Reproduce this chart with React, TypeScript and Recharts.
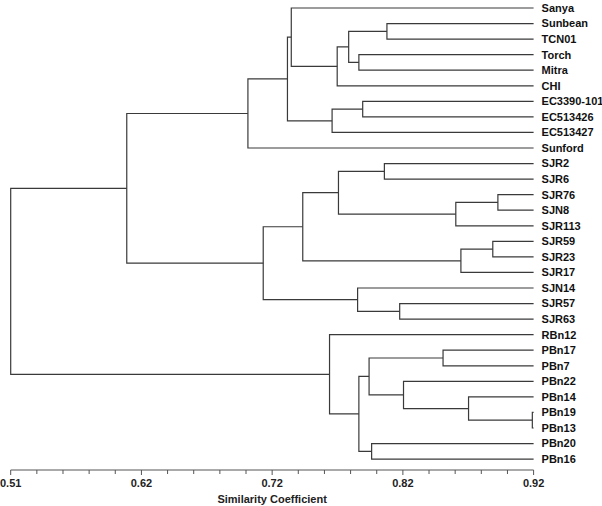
import React from "react";
import { LineChart, Line, XAxis, YAxis } from "recharts";

// leaf order top to bottom
const leaves = [
  "Sanya", "Sunbean", "TCN01", "Torch", "Mitra", "CHI",
  "EC3390-101", "EC513426", "EC513427", "Sunford",
  "SJR2", "SJR6", "SJR76", "SJN8", "SJR113", "SJR59", "SJR23", "SJR17",
  "SJN14", "SJR57", "SJR63",
  "RBn12", "PBn17", "PBn7", "PBn22", "PBn14", "PBn19", "PBn13", "PBn20", "PBn16",
];

// merges: [left, right, similarity]; "#n" = n-th merge overall
const topMerges: [string, string, number][] = [
  ["Sunbean", "TCN01", 0.805], // #0
  ["Torch", "Mitra", 0.783], // #1
  ["#0", "#1", 0.775], // #2
  ["#2", "CHI", 0.766], // #3
  ["Sanya", "#3", 0.73], // #4
  ["EC3390-101", "EC513426", 0.786], // #5
  ["#5", "EC513427", 0.762], // #6
  ["#4", "#6", 0.727], // #7
  ["#7", "Sunford", 0.696], // #8
];

const sjrMerges: [string, string, number][] = [
  ["SJR2", "SJR6", 0.803], // #9
  ["SJR76", "SJN8", 0.892], // #10
  ["#10", "SJR113", 0.859], // #11
  ["#9", "#11", 0.767], // #12
  ["SJR59", "SJR23", 0.888], // #13
  ["#13", "SJR17", 0.863], // #14
  ["#12", "#14", 0.739], // #15
  ["SJR57", "SJR63", 0.815], // #16
  ["SJN14", "#16", 0.782], // #17
  ["#15", "#17", 0.708], // #18
  ["#8", "#18", 0.601], // #19
];

const pbnMerges: [string, string, number][] = [
  ["PBn17", "PBn7", 0.849], // #20
  ["PBn19", "PBn13", 0.919], // #21
  ["PBn14", "#21", 0.869], // #22
  ["PBn22", "#22", 0.818], // #23
  ["#20", "#23", 0.791], // #24
  ["PBn20", "PBn16", 0.793], // #25
  ["#24", "#25", 0.783], // #26
  ["RBn12", "#26", 0.76], // #27
];

const rootMerges: [string, string, number][] = [["#19", "#27", 0.51]];

const majorTicks = [0.51, 0.6125, 0.715, 0.8175, 0.92];
const majorLabels = ["0.51", "0.62", "0.72", "0.82", "0.92"];

const LEAF_SIM = 0.92;
const LINE = "#3a3a3a";
const FONT = "Liberation Sans, Arial, sans-serif";

// every 5th tick is a major one
const xTicks: number[] = [];
majorTicks.forEach((t, i) => {
  if (i === 0) return xTicks.push(t);
  const prev = majorTicks[i - 1];
  for (let k = 1; k <= 5; k++) xTicks.push(prev + ((t - prev) * k) / 5);
});

const buildSegments = () => {
  const all = [...topMerges, ...sjrMerges, ...pbnMerges, ...rootMerges];
  const pos: { x: number; y: number }[] = [];
  const locate = (id: string) =>
    id.startsWith("#") ? pos[Number(id.slice(1))] : { x: LEAF_SIM, y: leaves.indexOf(id) };

  return all.map(([l, r, sim]) => {
    const a = locate(l);
    const b = locate(r);
    pos.push({ x: sim, y: (a.y + b.y) / 2 });
    return [
      { x: a.x, y: a.y },
      { x: sim, y: a.y },
      { x: sim, y: b.y },
      { x: b.x, y: b.y },
    ];
  });
};

const segments = buildSegments();

// minor ticks 4px, major ticks a bit longer
const XTick = (props: any) => {
  const { x, y, index } = props;
  const major = index % 5 === 0;
  return (
    <g>
      <line x1={x} x2={x} y1={470} y2={major ? 475 : 474} stroke="#555" />
      {major && (
        <text
          x={x}
          y={y}
          dy="0.71em"
          textAnchor="middle"
          fontSize={11}
          fontWeight={700}
          fill="#222"
          fontFamily={FONT}
        >
          {majorLabels[index / 5]}
        </text>
      )}
    </g>
  );
};

const App: React.FC = () => {
  return (
    <div style={{ position: "absolute", left: 0, top: 0, background: "#fff" }}>
      <LineChart
        width={602}
        height={506}
        margin={{ top: 8, right: 0, bottom: 0, left: 10.7 }}
      >
        <XAxis
          type="number"
          dataKey="x"
          domain={[0.51, 0.92]}
          ticks={xTicks}
          interval={0}
          tickLine={false}
          tickSize={4}
          tickMargin={5}
          stroke="#555"
          height={36}
          tick={<XTick />}
          label={{
            value: "Similarity Coefficient",
            position: "insideBottom",
            offset: 3,
            fontSize: 11,
            fontWeight: 700,
            fill: "#222",
            fontFamily: FONT,
          }}
        />
        <YAxis
          type="number"
          dataKey="y"
          orientation="right"
          reversed
          domain={[0, 29.7]}
          ticks={leaves.map((_, i) => i)}
          interval={0}
          width={68.4}
          axisLine={false}
          tickLine={false}
          tickSize={0}
          tickMargin={8}
          tickFormatter={(v: number) => leaves[v] ?? ""}
          tick={{ fontSize: 11, fontWeight: 700, fill: "#111", fontFamily: FONT, textAnchor: "start" }}
        />
        {segments.map((seg, i) => (
          <Line
            key={i}
            data={seg}
            dataKey="y"
            type="linear"
            stroke={LINE}
            strokeWidth={1.2}
            dot={false}
            activeDot={false}
            isAnimationActive={false}
          />
        ))}
      </LineChart>
    </div>
  );
};

export default App;
